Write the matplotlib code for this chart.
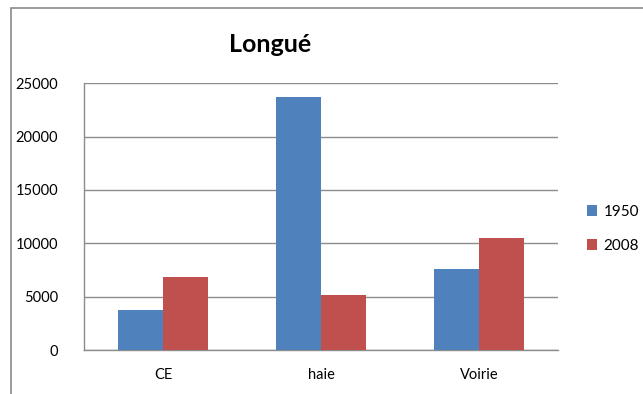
import matplotlib
matplotlib.use("Agg")
import matplotlib.pyplot as plt
import numpy as np
from matplotlib.patches import Rectangle

categories = ["CE", "haie", "Voirie"]
series_names = ["1950", "2008"]
values_1950 = [3750, 23750, 7550]
values_2008 = [6880, 5130, 10530]
y_ticks = [0, 5000, 10000, 15000, 20000, 25000]

colors = ["#4F81BD", "#C0504D"]
grid_color = "#8C8C8C"
font = ["Lato", "DejaVu Sans"]

W, H = 643, 394
fig = plt.figure(figsize=(W / 100, H / 100), dpi=100)
fig.patch.set_facecolor("white")

# chart frame
fig.patches.append(Rectangle((11 / W, -0.1), 1.2, 1.1 - 8 / H,
                             transform=fig.transFigure, fill=False,
                             edgecolor="#8a8a8a", linewidth=1.2))

left, right, top, bottom = 84.3, 557.7, 83.3, 350
ax = fig.add_axes([left / W, (H - bottom) / H, (right - left) / W, (bottom - top) / H])

x = np.arange(len(categories))
bw = 1 / 3.5
ax.bar(x - bw / 2, values_1950, width=bw, color=colors[0], label=series_names[0], zorder=3)
ax.bar(x + bw / 2, values_2008, width=bw, color=colors[1], label=series_names[1], zorder=3)

ax.set_xlim(-0.5, len(categories) - 0.5)
ax.set_ylim(0, 25000)
ax.set_yticks(y_ticks)
ax.set_yticklabels([str(v) for v in y_ticks], fontfamily=font, fontsize=10.5)
ax.set_xticks(x)
ax.set_xticklabels(categories, fontfamily=font, fontsize=10.5)
ax.tick_params(axis="y", length=0, pad=19)
ax.tick_params(axis="x", length=0, pad=13)
ax.yaxis.grid(True, color=grid_color, linewidth=1.0, zorder=0)
ax.set_axisbelow(True)
for s in ["top", "right"]:
    ax.spines[s].set_visible(False)
for s in ["left", "bottom"]:
    ax.spines[s].set_color(grid_color)
    ax.spines[s].set_linewidth(1.0)

fig.text(270 / W, 1 - 51.7 / H, "Longué", fontfamily=font, fontsize=18,
         fontweight="bold", ha="center", va="baseline")

leg = fig.legend(loc="center left", bbox_to_anchor=(573 / W, 1 - 229 / H),
                 frameon=False, prop={"family": font, "size": 11},
                 handlelength=0.7, handleheight=0.7, handletextpad=0.4,
                 labelspacing=1.3)

fig.savefig("out.png", dpi=100)
